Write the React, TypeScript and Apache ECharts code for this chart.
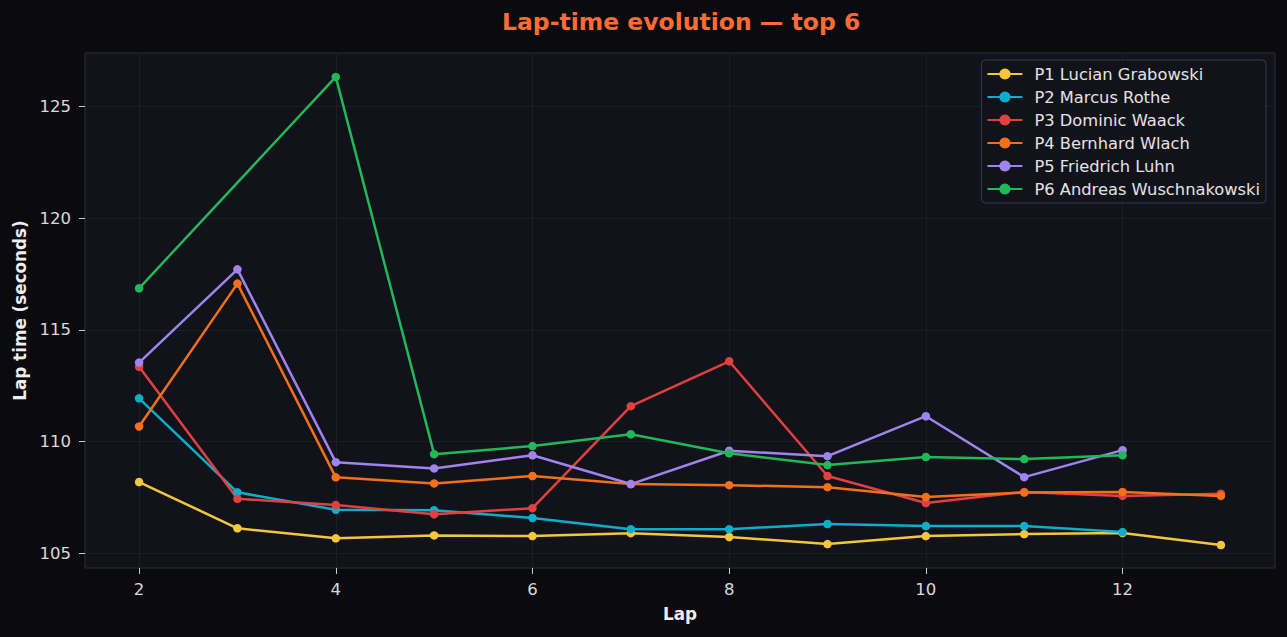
import React, { useEffect, useRef } from "react";
import * as echarts from "echarts";

const drivers = [
  "P1 Lucian Grabowski",
  "P2 Marcus Rothe",
  "P3 Dominic Waack",
  "P4 Bernhard Wlach",
  "P5 Friedrich Luhn",
  "P6 Andreas Wuschnakowski",
];

const colors = ["#f4c63d", "#0eaecb", "#e0413f", "#f2701c", "#a084ee", "#21b85a"];

const p1Laps = [2, 3, 4, 5, 6, 7, 8, 9, 10, 11, 12, 13];
const p1Times = [108.18, 106.11, 105.66, 105.79, 105.76, 105.89, 105.72, 105.4, 105.76, 105.85, 105.9, 105.36];

const p2Laps = [2, 3, 4, 5, 6, 7, 8, 9, 10, 11, 12];
const p2Times = [111.93, 107.72, 106.94, 106.92, 106.57, 106.07, 106.07, 106.3, 106.21, 106.21, 105.94];

const p3Laps = [2, 3, 4, 5, 6, 7, 8, 9, 10, 11, 12, 13];
const p3Times = [113.34, 107.43, 107.15, 106.74, 107.01, 111.58, 113.59, 108.45, 107.24, 107.74, 107.56, 107.66];

const p4Laps = [2, 3, 4, 5, 6, 7, 8, 9, 10, 11, 12, 13];
const p4Times = [110.67, 117.07, 108.39, 108.12, 108.45, 108.09, 108.04, 107.95, 107.51, 107.71, 107.74, 107.56];

const p5Laps = [2, 3, 4, 5, 6, 7, 8, 9, 10, 11, 12];
const p5Times = [113.53, 117.71, 109.07, 108.79, 109.38, 108.09, 109.58, 109.34, 111.13, 108.4, 109.61];

const p6Laps = [2, 4, 5, 6, 7, 8, 9, 10, 11, 12];
const p6Times = [116.86, 126.33, 109.43, 109.79, 110.32, 109.47, 108.94, 109.3, 109.21, 109.38];

const lapsList = [p1Laps, p2Laps, p3Laps, p4Laps, p5Laps, p6Laps];
const timesList = [p1Times, p2Times, p3Times, p4Times, p5Times, p6Times];

const xTicks = [2, 4, 6, 8, 10, 12];
const yTicks = [105, 110, 115, 120, 125];

const FONT = "DejaVu Sans";

export default function App() {
  const ref = useRef<HTMLDivElement>(null);

  useEffect(() => {
    if (!ref.current) return;
    const chart = echarts.init(ref.current, null, { renderer: "svg" });

    const series = drivers.map((name, i) => ({
      name,
      type: "line",
      data: lapsList[i].map((lap, j) => [lap, timesList[i][j]]),
      symbol: "circle",
      symbolSize: 8.5,
      lineStyle: { width: 2.5, color: colors[i] },
      itemStyle: { color: colors[i] },
      emphasis: { disabled: true },
    }));

    chart.setOption({
      animation: false,
      backgroundColor: "#0b0b0f",
      textStyle: { fontFamily: FONT },
      title: {
        text: "Lap-time evolution — top 6",
        left: 502,
        top: 10,
        padding: 0,
        textStyle: { color: "#ff6b35", fontSize: 23.5, fontWeight: "bold", fontFamily: FONT },
      },
      grid: {
        left: 85,
        top: 53,
        right: 12,
        bottom: 69,
        show: true,
        backgroundColor: "#12131a",
        borderColor: "#2c2d36",
        borderWidth: 1,
      },
      legend: {
        data: drivers,
        orient: "vertical",
        right: 21,
        top: 60,
        padding: [6, 6, 6, 5],
        itemWidth: 35,
        itemHeight: 14,
        itemGap: 7,
        backgroundColor: "#12131a",
        borderColor: "#383944",
        borderWidth: 1,
        borderRadius: 4,
        textStyle: {
          color: "#e2e2e2",
          fontSize: 16.3,
          lineHeight: 14,
          fontFamily: FONT,
          padding: [0, 0, 0, 7],
        },
      },
      xAxis: {
        type: "value",
        min: 1.45,
        max: 13.55,
        name: "Lap",
        nameLocation: "middle",
        nameGap: 37,
        nameTextStyle: { color: "#eeeeee", fontSize: 16.8, fontWeight: "bold", fontFamily: FONT },
        axisLine: { show: false },
        axisTick: { show: true, length: 6, lineStyle: { color: "#cccccc" }, customValues: xTicks },
        axisLabel: { color: "#d9d9d9", fontSize: 16.5, margin: 13, fontFamily: FONT, customValues: xTicks },
        splitLine: { show: true, lineStyle: { color: "#1c1d25", width: 1 } },
      },
      yAxis: {
        type: "value",
        min: 104.33,
        max: 127.4,
        name: "Lap time (seconds)",
        nameLocation: "middle",
        nameGap: 56,
        nameTextStyle: { color: "#eeeeee", fontSize: 16.8, fontWeight: "bold", fontFamily: FONT },
        axisLine: { show: false },
        axisTick: { show: true, length: 6, lineStyle: { color: "#cccccc" }, customValues: yTicks },
        axisLabel: { color: "#d9d9d9", fontSize: 16.5, margin: 14, fontFamily: FONT, customValues: yTicks },
        splitLine: { show: true, lineStyle: { color: "#1c1d25", width: 1 } },
      },
      series,
    });

    return () => chart.dispose();
  }, []);

  return <div ref={ref} style={{ width: 1287, height: 637, position: "fixed", left: 0, top: 0 }} />;
}
